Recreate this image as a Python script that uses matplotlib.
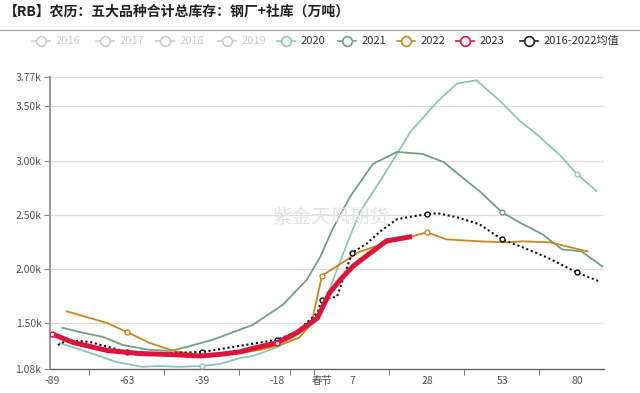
import matplotlib
matplotlib.use('Agg')
import matplotlib.pyplot as plt
from matplotlib.lines import Line2D
import numpy as np

plt.rcParams['font.family'] = ['Noto Sans CJK SC', 'DejaVu Sans']

# category index positions of the labelled x categories
tick_pos = [0, 5, 10, 15, 18, 20, 25, 30, 35]
tick_labels = ['-89', '-63', '-39', '-18', '春节', '7', '28', '53', '80']
minor_pos = [2.5, 7.5, 12.5, 15.9, 17.5, 22.5, 27.5, 32.5]

y_ticks = [1080, 1500, 2000, 2500, 3000, 3500, 3770]

# series (x = category index, y = 万吨)
x_2020 = [0.5, 2.5, 4.3, 6, 7.2, 8.5, 10, 11.2, 12.5, 13.4, 15.1, 17.2, 17.8, 19.2, 20.5,
          22.1, 23.9, 25.7, 27, 28.3, 29.9, 31.2, 32.5, 33.9, 35, 36.3]
y_2020 = [1320, 1230, 1145, 1100, 1108, 1100, 1108, 1126, 1180, 1200, 1285, 1470, 1550, 2070, 2520,
          2860, 3265, 3545, 3710, 3740, 3545, 3365, 3220, 3045, 2875, 2720]

x_2021 = [0.7, 2.1, 3.4, 4.7, 6.5, 7.9, 9, 10.7, 12.5, 13.4, 15.4, 17, 17.9, 18.7, 19.9, 21.4,
          23, 24.7, 26.1, 27.9, 28.5, 30, 31.4, 32.7, 34, 35.3, 36.7]
y_2021 = [1460, 1413, 1376, 1302, 1256, 1247, 1284, 1349, 1441, 1487, 1673, 1904, 2117, 2367, 2673, 2969,
          3080, 3061, 2987, 2784, 2719, 2524, 2413, 2321, 2182, 2163, 2024]

x_2022 = [1, 3.7, 5, 6.5, 8.1, 9.7, 11, 12.5, 14, 15.2, 16.5, 17.3, 18, 19.7, 20.4, 22, 23.5,
          25, 26.3, 28.5, 30.2, 31.4, 33.2, 34.3, 35.7]
y_2022 = [1611, 1503, 1420, 1321, 1247, 1210, 1205, 1225, 1260, 1300, 1370, 1500, 1940, 2089, 2154, 2230, 2283,
          2339, 2274, 2256, 2247, 2256, 2247, 2210, 2163]

x_2023 = [0, 1.4, 3.7, 5.9, 8.1, 9.9, 11.2, 12.5, 13.4, 15, 16.3, 17.7, 18.5, 19.3, 20.1, 21, 22.3, 24]
y_2023 = [1404, 1325, 1250, 1222, 1212, 1200, 1215, 1237, 1270, 1321, 1413, 1550, 1780, 1915, 2030, 2125, 2260, 2300]

x_mean = [0.4, 1, 2.5, 5, 6.5, 8.1, 10, 11.7, 12.5, 15, 16.3, 17.2, 17.7, 18, 19, 19.4, 20, 21,
          21.9, 23, 24.1, 25, 25.7, 27, 28.5, 30, 31.4, 33, 35, 36.5]
y_mean = [1300, 1345, 1330, 1237, 1228, 1228, 1237, 1274, 1293, 1349, 1423, 1534, 1599, 1719, 1747, 1904, 2150, 2237,
          2349, 2460, 2487, 2506, 2515, 2478, 2413, 2274, 2200, 2108, 1969, 1886]

legend_names = ['2016', '2017', '2018', '2019', '2020', '2021', '2022', '2023', '2016-2022均值']
legend_colors = ['#cccccc', '#cccccc', '#cccccc', '#cccccc', '#91c7ae', '#749f83', '#ca8622', '#dc143c', '#222222']
legend_on = [False, False, False, False, True, True, True, True, True]

fig = plt.figure(figsize=(6.4, 3.93), dpi=100)
ax = fig.add_axes([50 / 640, 24 / 393, 554 / 640, 292 / 393])


def marks(xs):
    return [k for k, v in enumerate(xs) if v in tick_pos]


ax.plot(x_2020, y_2020, color='#91c7ae', lw=1.3, marker='o', markersize=3.5, markerfacecolor='white',
        markevery=marks(x_2020), zorder=3)
ax.plot(x_2021, y_2021, color='#749f83', lw=1.3, marker='o', markersize=3.5, markerfacecolor='white',
        markevery=marks(x_2021), zorder=3)
ax.plot(x_2022, y_2022, color='#ca8622', lw=1.3, marker='o', markersize=3.5, markerfacecolor='white',
        markevery=marks(x_2022), zorder=3)
ax.plot(x_mean, y_mean, color='#111111', lw=1.5, ls=(0, (1, 1.3)), marker='o', markersize=3.5,
        markerfacecolor='white', markevery=marks(x_mean), zorder=4)
ax.plot(x_2023, y_2023, color='#dc143c', lw=3.6, marker='o', markersize=3.5, markerfacecolor='white',
        markeredgewidth=1, markevery=marks(x_2023), zorder=5, solid_capstyle='butt')

ax.set_xlim(-0.13, 36.8)
ax.set_ylim(1080, 3770)

ax.set_yticks(y_ticks)
ax.set_yticklabels([f'{v / 1000:.2f}k' for v in y_ticks])
ax.set_xticks(tick_pos)
ax.set_xticklabels(tick_labels)
ax.set_xticks(minor_pos, minor=True)
ax.tick_params(axis='x', which='major', length=0, labelsize=7.5, colors='#555555', pad=5)
ax.tick_params(axis='x', which='minor', length=4, color='#666666')
ax.tick_params(axis='y', length=4, color='#888888', labelsize=7.5, labelcolor='#555555', pad=2)

ax.grid(axis='y', color='#dddddd', lw=0.9)
ax.set_axisbelow(True)
for s in ['top', 'right']:
    ax.spines[s].set_visible(False)
ax.spines['left'].set_color('#999999')
ax.spines['left'].set_linewidth(1.4)
ax.spines['bottom'].set_color('#666666')
ax.spines['bottom'].set_linewidth(1)

# title and separator
fig.text(4 / 640, 1 - 12 / 393, '【RB】农历：五大品种合计总库存：钢厂+社库（万吨）',
         fontsize=10, fontweight='bold', color='#222222', va='center', ha='left')
fig.add_artist(Line2D([0, 1], [1 - 30 / 393, 1 - 30 / 393], color='#aaaaaa', lw=1))

# legend
mx = [41, 105, 165, 227, 286, 347, 406, 465, 529]
ly = 1 - 41 / 393
for name, col, on, m in zip(legend_names, legend_colors, legend_on, mx):
    fig.add_artist(Line2D([(m - 9) / 640, (m + 9) / 640], [ly, ly], color=col, lw=1.2))
    fig.add_artist(Line2D([m / 640], [ly], color=col, marker='o', markersize=7,
                          markerfacecolor='white', markeredgewidth=1.2))
    fig.text((m + 15) / 640, ly, name, fontsize=8, color='#333333' if on else '#cccccc',
             va='center', ha='left')

# watermark
fig.text(331 / 640, 1 - 218 / 393, '紫金天风期货', fontsize=14, color='#e3e3e3',
         ha='center', va='center', zorder=0)

fig.savefig('out.png', dpi=100)
